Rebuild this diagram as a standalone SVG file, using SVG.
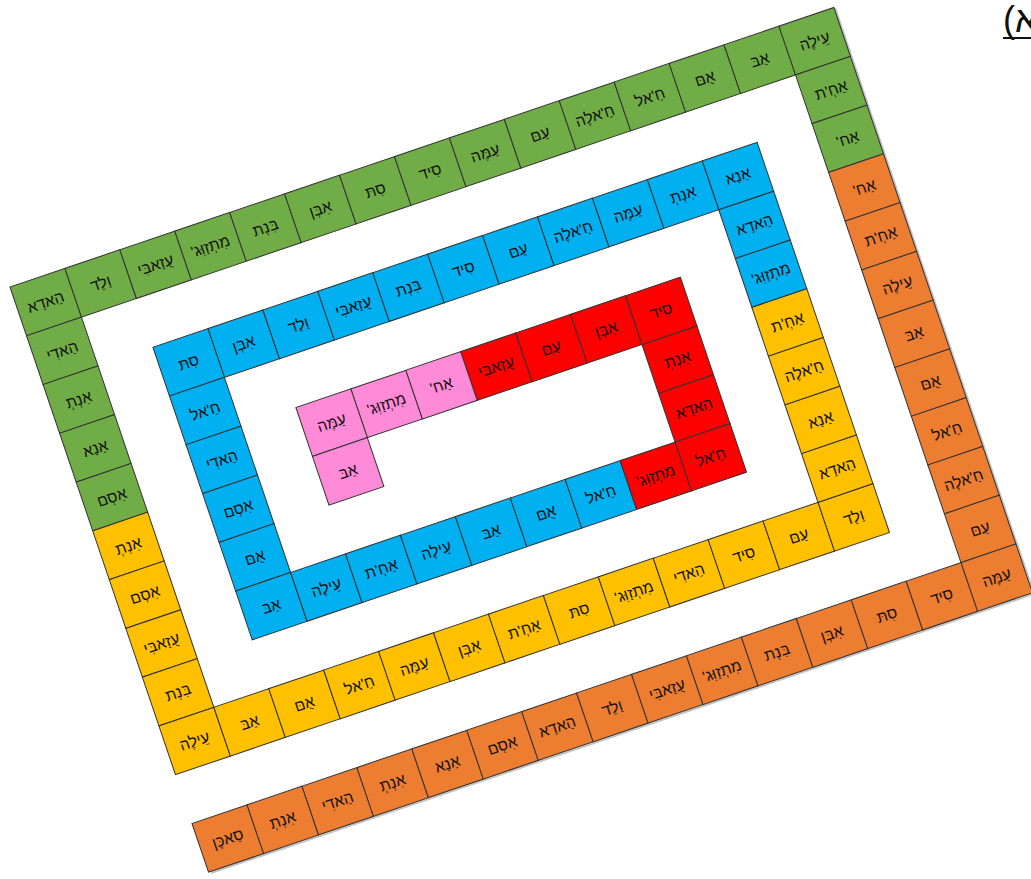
<svg xmlns="http://www.w3.org/2000/svg" width="1031" height="879" viewBox="0 0 1031 879">
<style>
.cell rect{stroke:#333;stroke-width:1}
.g rect{fill:#70AD47}.o rect{fill:#ED7D31}.y rect{fill:#FFC000}.b rect{fill:#00B0F0}.r rect{fill:#FF0000}.p rect{fill:#FF8AD8}
text{font-family:"Liberation Sans","DejaVu Sans",sans-serif;font-size:15.5px;fill:#111;text-anchor:middle;direction:rtl}
.sh{fill:#c4c4c4;stroke:none}
</style>
<rect width="1031" height="879" fill="#fff"/>
<g id="label">
<text x="1003" y="32" style="font-size:36px;direction:ltr;text-anchor:start">(א</text>
<line x1="1003" y1="38" x2="1031" y2="38" stroke="#111" stroke-width="2"/>
</g>
<g id="board" transform="translate(10,287) rotate(-18.74)">
<g id="shadow">
<rect class="sh" x="2" y="567" width="870" height="53.5"/>
<rect class="sh" x="814" y="1" width="58" height="619"/>
</g>
<g id="cells">
<g id="c0-0" class="cell g" transform="translate(0,0)"><rect width="58" height="51.5"/><text x="29" y="31">הַאדַא</text></g>
<g id="c1-0" class="cell g" transform="translate(58,0)"><rect width="58" height="51.5"/><text x="29" y="31">וַלַד</text></g>
<g id="c2-0" class="cell g" transform="translate(116,0)"><rect width="58" height="51.5"/><text x="29" y="31">עֻזַאבִּי</text></g>
<g id="c3-0" class="cell g" transform="translate(174,0)"><rect width="58" height="51.5"/><text x="29" y="31">מִתְזַוִּג'</text></g>
<g id="c4-0" class="cell g" transform="translate(232,0)"><rect width="58" height="51.5"/><text x="29" y="31">בִּנְת</text></g>
<g id="c5-0" class="cell g" transform="translate(290,0)"><rect width="58" height="51.5"/><text x="29" y="31">אִבְּן</text></g>
<g id="c6-0" class="cell g" transform="translate(348,0)"><rect width="58" height="51.5"/><text x="29" y="31">סִתּ</text></g>
<g id="c7-0" class="cell g" transform="translate(406,0)"><rect width="58" height="51.5"/><text x="29" y="31">סִיד</text></g>
<g id="c8-0" class="cell g" transform="translate(464,0)"><rect width="58" height="51.5"/><text x="29" y="31">עַמֶּה</text></g>
<g id="c9-0" class="cell g" transform="translate(522,0)"><rect width="58" height="51.5"/><text x="29" y="31">עַםּ</text></g>
<g id="c10-0" class="cell g" transform="translate(580,0)"><rect width="58" height="51.5"/><text x="29" y="31">חַ'אלֶה</text></g>
<g id="c11-0" class="cell g" transform="translate(638,0)"><rect width="58" height="51.5"/><text x="29" y="31">חַ'אל</text></g>
<g id="c12-0" class="cell g" transform="translate(696,0)"><rect width="58" height="51.5"/><text x="29" y="31">אֻםּ</text></g>
<g id="c13-0" class="cell g" transform="translate(754,0)"><rect width="58" height="51.5"/><text x="29" y="31">אַבּ</text></g>
<g id="c14-0" class="cell g" transform="translate(812,0)"><rect width="58" height="51.5"/><text x="29" y="31">עֵילֶה</text></g>
<g id="c14-1" class="cell g" transform="translate(812,51.5)"><rect width="58" height="51.5"/><text x="29" y="31">אַחְ'ת</text></g>
<g id="c14-2" class="cell g" transform="translate(812,103)"><rect width="58" height="51.5"/><text x="29" y="31">אַח'</text></g>
<g id="c14-3" class="cell o" transform="translate(812,154.5)"><rect width="58" height="51.5"/><text x="29" y="31">אַח'</text></g>
<g id="c14-4" class="cell o" transform="translate(812,206)"><rect width="58" height="51.5"/><text x="29" y="31">אַחְ'ת</text></g>
<g id="c14-5" class="cell o" transform="translate(812,257.5)"><rect width="58" height="51.5"/><text x="29" y="31">עֵילֶה</text></g>
<g id="c14-6" class="cell o" transform="translate(812,309)"><rect width="58" height="51.5"/><text x="29" y="31">אַבּ</text></g>
<g id="c14-7" class="cell o" transform="translate(812,360.5)"><rect width="58" height="51.5"/><text x="29" y="31">אֻםּ</text></g>
<g id="c14-8" class="cell o" transform="translate(812,412)"><rect width="58" height="51.5"/><text x="29" y="31">חַ'אל</text></g>
<g id="c14-9" class="cell o" transform="translate(812,463.5)"><rect width="58" height="51.5"/><text x="29" y="31">חַ'אלֶה</text></g>
<g id="c14-10" class="cell o" transform="translate(812,515)"><rect width="58" height="51.5"/><text x="29" y="31">עַםּ</text></g>
<g id="c14-11" class="cell o" transform="translate(812,566.5)"><rect width="58" height="51.5"/><text x="29" y="31">עַמֶּה</text></g>
<g id="c13-11" class="cell o" transform="translate(754,566.5)"><rect width="58" height="51.5"/><text x="29" y="31">סִיד</text></g>
<g id="c12-11" class="cell o" transform="translate(696,566.5)"><rect width="58" height="51.5"/><text x="29" y="31">סִתּ</text></g>
<g id="c11-11" class="cell o" transform="translate(638,566.5)"><rect width="58" height="51.5"/><text x="29" y="31">אִבְּן</text></g>
<g id="c10-11" class="cell o" transform="translate(580,566.5)"><rect width="58" height="51.5"/><text x="29" y="31">בִּנְת</text></g>
<g id="c9-11" class="cell o" transform="translate(522,566.5)"><rect width="58" height="51.5"/><text x="29" y="31">מִתְזַוִּג'</text></g>
<g id="c8-11" class="cell o" transform="translate(464,566.5)"><rect width="58" height="51.5"/><text x="29" y="31">עֻזַאבִּי</text></g>
<g id="c7-11" class="cell o" transform="translate(406,566.5)"><rect width="58" height="51.5"/><text x="29" y="31">וַלַד</text></g>
<g id="c6-11" class="cell o" transform="translate(348,566.5)"><rect width="58" height="51.5"/><text x="29" y="31">הַאדַא</text></g>
<g id="c5-11" class="cell o" transform="translate(290,566.5)"><rect width="58" height="51.5"/><text x="29" y="31">אִסְם</text></g>
<g id="c4-11" class="cell o" transform="translate(232,566.5)"><rect width="58" height="51.5"/><text x="29" y="31">אַנַא</text></g>
<g id="c3-11" class="cell o" transform="translate(174,566.5)"><rect width="58" height="51.5"/><text x="29" y="31">אִנְתְ</text></g>
<g id="c2-11" class="cell o" transform="translate(116,566.5)"><rect width="58" height="51.5"/><text x="29" y="31">הַאדִי</text></g>
<g id="c1-11" class="cell o" transform="translate(58,566.5)"><rect width="58" height="51.5"/><text x="29" y="31">אִנְתְ</text></g>
<g id="c0-11" class="cell o" transform="translate(0,566.5)"><rect width="58" height="51.5"/><text x="29" y="31">סַאכֶּן</text></g>
<g id="c0-1" class="cell g" transform="translate(0,51.5)"><rect width="58" height="51.5"/><text x="29" y="31">הַאדִי</text></g>
<g id="c0-2" class="cell g" transform="translate(0,103)"><rect width="58" height="51.5"/><text x="29" y="31">אִנְתְ</text></g>
<g id="c0-3" class="cell g" transform="translate(0,154.5)"><rect width="58" height="51.5"/><text x="29" y="31">אַנַא</text></g>
<g id="c0-4" class="cell g" transform="translate(0,206)"><rect width="58" height="51.5"/><text x="29" y="31">אִסְם</text></g>
<g id="c0-5" class="cell y" transform="translate(0,257.5)"><rect width="58" height="51.5"/><text x="29" y="31">אִנְתְ</text></g>
<g id="c0-6" class="cell y" transform="translate(0,309)"><rect width="58" height="51.5"/><text x="29" y="31">אִסְם</text></g>
<g id="c0-7" class="cell y" transform="translate(0,360.5)"><rect width="58" height="51.5"/><text x="29" y="31">עֻזַאבִּי</text></g>
<g id="c0-8" class="cell y" transform="translate(0,412)"><rect width="58" height="51.5"/><text x="29" y="31">בִּנְת</text></g>
<g id="c0-9" class="cell y" transform="translate(0,463.5)"><rect width="58" height="51.5"/><text x="29" y="31">עֵילֶה</text></g>
<g id="c1-9" class="cell y" transform="translate(58,463.5)"><rect width="58" height="51.5"/><text x="29" y="31">אַבּ</text></g>
<g id="c2-9" class="cell y" transform="translate(116,463.5)"><rect width="58" height="51.5"/><text x="29" y="31">אֻםּ</text></g>
<g id="c3-9" class="cell y" transform="translate(174,463.5)"><rect width="58" height="51.5"/><text x="29" y="31">חַ'אל</text></g>
<g id="c4-9" class="cell y" transform="translate(232,463.5)"><rect width="58" height="51.5"/><text x="29" y="31">עַמֶּה</text></g>
<g id="c5-9" class="cell y" transform="translate(290,463.5)"><rect width="58" height="51.5"/><text x="29" y="31">אִבְּן</text></g>
<g id="c6-9" class="cell y" transform="translate(348,463.5)"><rect width="58" height="51.5"/><text x="29" y="31">אַחְ'ת</text></g>
<g id="c7-9" class="cell y" transform="translate(406,463.5)"><rect width="58" height="51.5"/><text x="29" y="31">סִתּ</text></g>
<g id="c8-9" class="cell y" transform="translate(464,463.5)"><rect width="58" height="51.5"/><text x="29" y="31">מִתְזַוִּג'</text></g>
<g id="c9-9" class="cell y" transform="translate(522,463.5)"><rect width="58" height="51.5"/><text x="29" y="31">הַאדִי</text></g>
<g id="c10-9" class="cell y" transform="translate(580,463.5)"><rect width="58" height="51.5"/><text x="29" y="31">סִיד</text></g>
<g id="c11-9" class="cell y" transform="translate(638,463.5)"><rect width="58" height="51.5"/><text x="29" y="31">עַםּ</text></g>
<g id="c12-9" class="cell y" transform="translate(696,463.5)"><rect width="58" height="51.5"/><text x="29" y="31">וַלַד</text></g>
<g id="c12-8" class="cell y" transform="translate(696,412)"><rect width="58" height="51.5"/><text x="29" y="31">הַאדַא</text></g>
<g id="c12-7" class="cell y" transform="translate(696,360.5)"><rect width="58" height="51.5"/><text x="29" y="31">אַנַא</text></g>
<g id="c12-6" class="cell y" transform="translate(696,309)"><rect width="58" height="51.5"/><text x="29" y="31">חַ'אלֶה</text></g>
<g id="c12-5" class="cell y" transform="translate(696,257.5)"><rect width="58" height="51.5"/><text x="29" y="31">אַחְ'ת</text></g>
<g id="c12-4" class="cell b" transform="translate(696,206)"><rect width="58" height="51.5"/><text x="29" y="31">מִתְזַוִּג'</text></g>
<g id="c12-3" class="cell b" transform="translate(696,154.5)"><rect width="58" height="51.5"/><text x="29" y="31">הַאדַא</text></g>
<g id="c12-2" class="cell b" transform="translate(696,103)"><rect width="58" height="51.5"/><text x="29" y="31">אַנַא</text></g>
<g id="c11-2" class="cell b" transform="translate(638,103)"><rect width="58" height="51.5"/><text x="29" y="31">אִנְתְ</text></g>
<g id="c10-2" class="cell b" transform="translate(580,103)"><rect width="58" height="51.5"/><text x="29" y="31">עַמֶּה</text></g>
<g id="c9-2" class="cell b" transform="translate(522,103)"><rect width="58" height="51.5"/><text x="29" y="31">חַ'אלֶה</text></g>
<g id="c8-2" class="cell b" transform="translate(464,103)"><rect width="58" height="51.5"/><text x="29" y="31">עַםּ</text></g>
<g id="c7-2" class="cell b" transform="translate(406,103)"><rect width="58" height="51.5"/><text x="29" y="31">סִיד</text></g>
<g id="c6-2" class="cell b" transform="translate(348,103)"><rect width="58" height="51.5"/><text x="29" y="31">בִּנְת</text></g>
<g id="c5-2" class="cell b" transform="translate(290,103)"><rect width="58" height="51.5"/><text x="29" y="31">עֻזַאבִּי</text></g>
<g id="c4-2" class="cell b" transform="translate(232,103)"><rect width="58" height="51.5"/><text x="29" y="31">וַלַד</text></g>
<g id="c3-2" class="cell b" transform="translate(174,103)"><rect width="58" height="51.5"/><text x="29" y="31">אִבְּן</text></g>
<g id="c2-2" class="cell b" transform="translate(116,103)"><rect width="58" height="51.5"/><text x="29" y="31">סִתּ</text></g>
<g id="c2-3" class="cell b" transform="translate(116,154.5)"><rect width="58" height="51.5"/><text x="29" y="31">חַ'אל</text></g>
<g id="c2-4" class="cell b" transform="translate(116,206)"><rect width="58" height="51.5"/><text x="29" y="31">הַאדִי</text></g>
<g id="c2-5" class="cell b" transform="translate(116,257.5)"><rect width="58" height="51.5"/><text x="29" y="31">אִסְם</text></g>
<g id="c2-6" class="cell b" transform="translate(116,309)"><rect width="58" height="51.5"/><text x="29" y="31">אֻםּ</text></g>
<g id="c2-7" class="cell b" transform="translate(116,360.5)"><rect width="58" height="51.5"/><text x="29" y="31">אַבּ</text></g>
<g id="c3-7" class="cell b" transform="translate(174,360.5)"><rect width="58" height="51.5"/><text x="29" y="31">עֵילֶה</text></g>
<g id="c4-7" class="cell b" transform="translate(232,360.5)"><rect width="58" height="51.5"/><text x="29" y="31">אַחְ'ת</text></g>
<g id="c5-7" class="cell b" transform="translate(290,360.5)"><rect width="58" height="51.5"/><text x="29" y="31">עֵילֶה</text></g>
<g id="c6-7" class="cell b" transform="translate(348,360.5)"><rect width="58" height="51.5"/><text x="29" y="31">אַבּ</text></g>
<g id="c7-7" class="cell b" transform="translate(406,360.5)"><rect width="58" height="51.5"/><text x="29" y="31">אֻםּ</text></g>
<g id="c8-7" class="cell b" transform="translate(464,360.5)"><rect width="58" height="51.5"/><text x="29" y="31">חַ'אל</text></g>
<g id="c9-7" class="cell r" transform="translate(522,360.5)"><rect width="58" height="51.5"/><text x="29" y="31">מִתְזַוִּג'</text></g>
<g id="c10-7" class="cell r" transform="translate(580,360.5)"><rect width="58" height="51.5"/><text x="29" y="31">חַ'אל</text></g>
<g id="c10-6" class="cell r" transform="translate(580,309)"><rect width="58" height="51.5"/><text x="29" y="31">הַאדַא</text></g>
<g id="c10-5" class="cell r" transform="translate(580,257.5)"><rect width="58" height="51.5"/><text x="29" y="31">אִנְתְ</text></g>
<g id="c10-4" class="cell r" transform="translate(580,206)"><rect width="58" height="51.5"/><text x="29" y="31">סִיד</text></g>
<g id="c9-4" class="cell r" transform="translate(522,206)"><rect width="58" height="51.5"/><text x="29" y="31">אִבְּן</text></g>
<g id="c8-4" class="cell r" transform="translate(464,206)"><rect width="58" height="51.5"/><text x="29" y="31">עַםּ</text></g>
<g id="c7-4" class="cell r" transform="translate(406,206)"><rect width="58" height="51.5"/><text x="29" y="31">עֻזַאבִּי</text></g>
<g id="c6-4" class="cell p" transform="translate(348,206)"><rect width="58" height="51.5"/><text x="29" y="31">אַח'</text></g>
<g id="c5-4" class="cell p" transform="translate(290,206)"><rect width="58" height="51.5"/><text x="29" y="31">מִתְזַוִּג'</text></g>
<g id="c4-4" class="cell p" transform="translate(232,206)"><rect width="58" height="51.5"/><text x="29" y="31">עַמֶּה</text></g>
<g id="c4-5" class="cell p" transform="translate(232,257.5)"><rect width="58" height="51.5"/><text x="29" y="31">אַבּ</text></g>
</g>
</g>
</svg>
